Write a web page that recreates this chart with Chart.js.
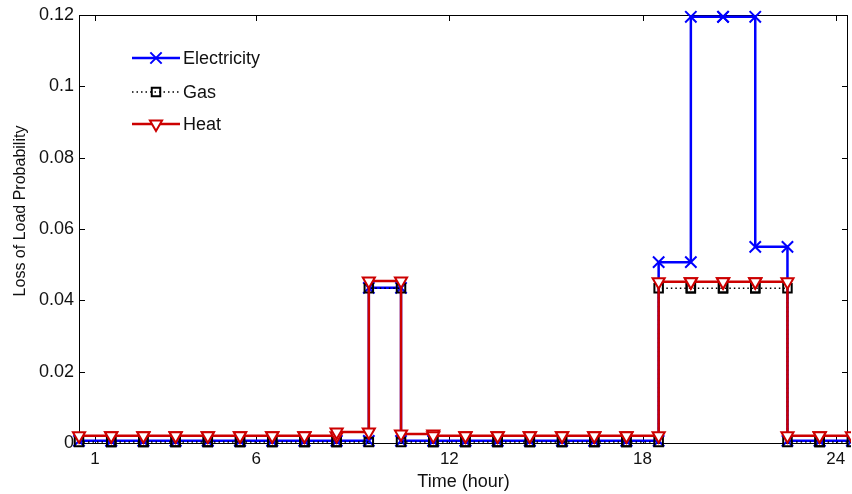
<!DOCTYPE html>
<html>
<head>
<meta charset="utf-8">
<script src="https://cdn.jsdelivr.net/npm/chart.js@4.4.1/dist/chart.umd.min.js"></script>
<style>
  html, body { margin: 0; padding: 0; background: #fff; }
  #wrap { width: 852px; height: 494px; }
</style>
</head>
<body>
<div id="wrap"><canvas id="lolpChart" width="852" height="494"></canvas></div>
<script>
const hours = [1, 2, 3, 4, 5, 6, 7, 8, 9, 10, 11, 12, 13, 14, 15, 16, 17, 18, 19, 20, 21, 22, 23, 24];
const electricity = [0.0006, 0.0006, 0.0006, 0.0006, 0.0006, 0.0006, 0.0006, 0.0006, 0.0006, 0.0435, 0.0006, 0.0006,
                     0.0006, 0.0006, 0.0006, 0.0006, 0.0006, 0.0006, 0.0507, 0.1195, 0.1195, 0.0550, 0.0006, 0.0006];
const gas = [0.0003, 0.0003, 0.0003, 0.0003, 0.0003, 0.0003, 0.0003, 0.0003, 0.0003, 0.0434, 0.0003, 0.0003,
             0.0003, 0.0003, 0.0003, 0.0003, 0.0003, 0.0003, 0.0434, 0.0434, 0.0434, 0.0434, 0.0003, 0.0003];
const heat = [0.0020, 0.0020, 0.0020, 0.0020, 0.0020, 0.0020, 0.0020, 0.0020, 0.0031, 0.0454, 0.0025, 0.0020,
              0.0020, 0.0020, 0.0020, 0.0020, 0.0020, 0.0020, 0.0452, 0.0452, 0.0452, 0.0452, 0.0020, 0.0020];
const xTicks = [1, 6, 12, 18, 24];
const yTicks = [0, 0.02, 0.04, 0.06, 0.08, 0.1, 0.12];
const yTickLabels = ['0', '0.02', '0.04', '0.06', '0.08', '0.1', '0.12'];

const FONT = '"Liberation Sans", Arial, sans-serif';

// every hour is a flat step from h-0.5 to h+0.5, marker at both ends
function steps(values) {
  const pts = [];
  hours.forEach((h, i) => {
    pts.push({ x: h - 0.5, y: values[i] });
    pts.push({ x: h + 0.5, y: values[i] });
  });
  return pts;
}

// box, inward ticks, y title and legend (matlab look)
const matlabAxes = {
  id: 'matlabAxes',
  beforeDatasetsDraw(chart) {
    const { ctx, chartArea: a, scales: { x, y } } = chart;
    ctx.save();
    ctx.strokeStyle = '#000';
    ctx.lineWidth = 1;
    ctx.strokeRect(a.left + 0.5, a.top + 0.5, a.right - a.left - 1, a.bottom - a.top);
    ctx.beginPath();
    xTicks.forEach(v => {
      const px = Math.round(x.getPixelForValue(v)) + 0.5;
      ctx.moveTo(px, a.bottom); ctx.lineTo(px, a.bottom - 6);
      ctx.moveTo(px, a.top); ctx.lineTo(px, a.top + 6);
    });
    yTicks.forEach(v => {
      const py = Math.round(y.getPixelForValue(v)) + 0.5;
      ctx.moveTo(a.left, py); ctx.lineTo(a.left + 6, py);
      ctx.moveTo(a.right, py); ctx.lineTo(a.right - 6, py);
    });
    ctx.stroke();
    ctx.restore();
  },
  afterDraw(chart) {
    const { ctx } = chart;
    ctx.save();
    ctx.fillStyle = '#111';
    ctx.font = '16px ' + FONT;
    ctx.translate(21, 211);
    ctx.rotate(-Math.PI / 2);
    ctx.textAlign = 'center';
    ctx.textBaseline = 'middle';
    ctx.fillText('Loss of Load Probability', 0, 0);
    ctx.restore();

    const rows = [58, 92, 124];
    chart.data.datasets.forEach((ds, i) => {
      const yy = rows[i];
      ctx.save();
      ctx.strokeStyle = ds.borderColor;
      ctx.lineWidth = ds.borderWidth;
      ctx.setLineDash(ds.borderDash || []);
      ctx.beginPath();
      ctx.moveTo(132, yy); ctx.lineTo(180, yy);
      ctx.stroke();
      ctx.setLineDash([]);
      ctx.strokeStyle = ds.pointBorderColor;
      ctx.fillStyle = ds.pointBackgroundColor;
      ctx.lineWidth = ds.pointBorderWidth;
      Chart.helpers.drawPoint(ctx, {
        pointStyle: ds.pointStyle,
        rotation: ds.pointRotation || 0,
        radius: ds.pointRadius,
        borderWidth: ds.pointBorderWidth
      }, 156, yy);
      ctx.fillStyle = '#111';
      ctx.font = '18px ' + FONT;
      ctx.textBaseline = 'middle';
      ctx.fillText(ds.label, 183, yy + 1);
      ctx.restore();
    });
  }
};

const ctx = document.getElementById('lolpChart');

new Chart(ctx, {
  type: 'line',
  data: {
    datasets: [{
      label: 'Electricity',
      data: steps(electricity),
      borderColor: '#0000ff',
      borderWidth: 2.5,
      pointStyle: 'crossRot',
      pointRadius: 8,
      pointBorderWidth: 2,
      pointBorderColor: '#0000ff',
      pointBackgroundColor: 'rgba(0,0,0,0)',
      order: 3,
      clip: { left: 10, top: 10, right: 3, bottom: 10 }
    }, {
      label: 'Gas',
      data: steps(gas),
      borderColor: '#000000',
      borderWidth: 1.5,
      borderDash: [1.5, 3],
      pointStyle: 'rect',
      pointRadius: 6,
      pointBorderWidth: 2,
      pointBorderColor: '#000000',
      pointBackgroundColor: 'rgba(0,0,0,0)',
      order: 2,
      clip: { left: 10, top: 10, right: 3, bottom: 10 }
    }, {
      label: 'Heat',
      data: steps(heat),
      borderColor: '#cc0000',
      borderWidth: 2.5,
      pointStyle: 'triangle',
      pointRotation: 180,
      pointRadius: 7,
      pointBorderWidth: 2,
      pointBorderColor: '#cc0000',
      pointBackgroundColor: '#ffffff',
      order: 1,
      clip: { left: 10, top: 10, right: 3, bottom: 10 }
    }]
  },
  options: {
    responsive: false,
    animation: false,
    devicePixelRatio: 1,
    layout: { autoPadding: false, padding: { left: 0, top: 15, right: 4, bottom: 0 } },
    plugins: {
      legend: { display: false },
      tooltip: { enabled: false }
    },
    scales: {
      x: {
        type: 'linear',
        min: 0.5,
        max: 24.38,
        afterBuildTicks: s => { s.ticks = xTicks.map(v => ({ value: v })); },
        afterFit: s => { s.height = 51; s.paddingLeft = 0; s.paddingRight = 0; },
        grid: { display: false, drawTicks: false },
        border: { display: false },
        ticks: { color: '#111', font: { family: FONT, size: 17 }, padding: 6, maxRotation: 0 },
        title: { display: true, text: 'Time (hour)', color: '#111', font: { family: FONT, size: 18 }, padding: { top: 0, bottom: 1 } }
      },
      y: {
        min: 0,
        max: 0.12,
        afterBuildTicks: s => { s.ticks = yTicks.map(v => ({ value: v })); },
        afterFit: s => { s.width = 79; s.paddingTop = 0; s.paddingBottom = 0; },
        grid: { display: false, drawTicks: false },
        border: { display: false },
        ticks: {
          color: '#111',
          font: { family: FONT, size: 18 },
          padding: 5,
          callback: v => yTickLabels[yTicks.indexOf(v)]
        }
      }
    }
  },
  plugins: [matlabAxes]
});
</script>
</body>
</html>
